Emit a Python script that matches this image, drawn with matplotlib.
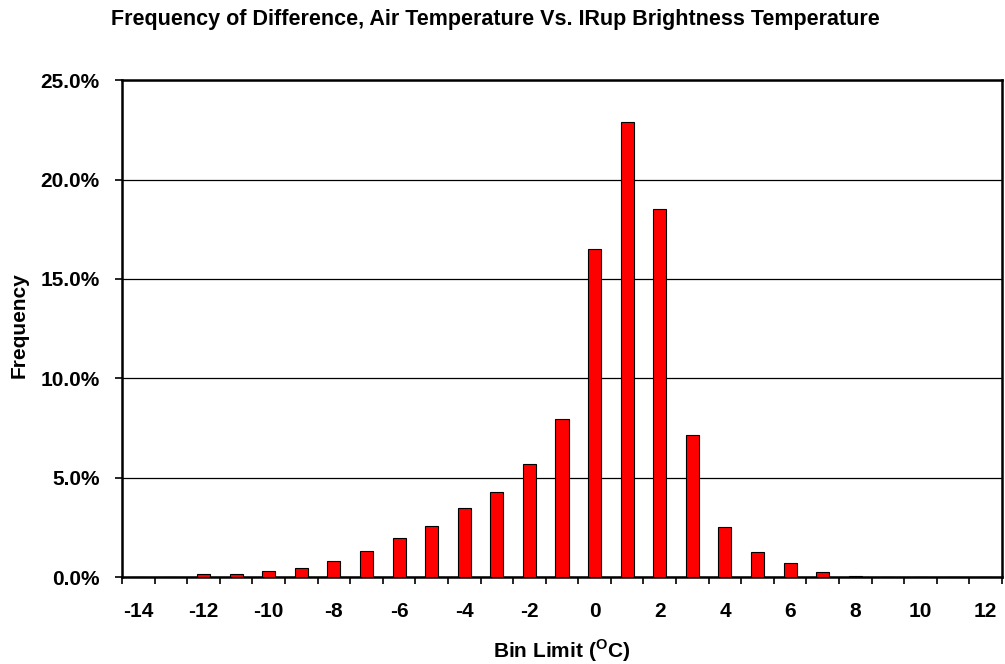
import numpy as np
import matplotlib.pyplot as plt

plt.rcParams["font.family"] = ["Liberation Sans", "DejaVu Sans"]
plt.rcParams["font.weight"] = "bold"
plt.rcParams["mathtext.fontset"] = "custom"
plt.rcParams["mathtext.rm"] = "Liberation Sans:bold"
plt.rcParams["mathtext.bf"] = "Liberation Sans:bold"

bins = list(range(-14, 13))
freq = [0.0, 0.0, 0.15, 0.2, 0.33, 0.5, 0.84, 1.35, 1.97, 2.6, 3.5, 4.3,
        5.68, 7.95, 16.5, 22.9, 18.5, 7.15, 2.55, 1.3, 0.73, 0.27, 0.09,
        0.0, 0.0, 0.0, 0.0]
tick_labels = [str(b) if b % 2 == 0 else "" for b in bins]

fig = plt.figure(figsize=(10.05, 6.64), dpi=100)
ax = fig.add_axes([0.1214, 0.1303, 0.8756, 0.7492])

x = np.arange(len(bins))
ax.bar(x, freq, width=0.4, color="#ff0000", edgecolor="black", linewidth=0.8, zorder=3)

ax.set_xlim(-0.5, len(bins) - 0.5)
ax.set_ylim(0, 25)
ax.set_yticks([0, 5, 10, 15, 20, 25])
ax.set_yticklabels([f"{v:.1f}%" for v in [0, 5, 10, 15, 20, 25]])
ax.yaxis.grid(True, color="black", linewidth=0.9, zorder=0)

ax.set_xticks(x)
ax.set_xticklabels(tick_labels)
ax.set_xticks(np.arange(-0.5, len(bins), 1), minor=True)
ax.tick_params(axis="x", which="major", length=0, pad=18, labelsize=15)
ax.tick_params(axis="x", which="minor", length=5, width=1.2, direction="out")
ax.tick_params(axis="y", length=5, width=1.2, direction="out", labelsize=15, pad=11)

for s in ax.spines.values():
    s.set_linewidth(1.8)
    s.set_color("black")

fig.text(19 / 1005, 0.511, "Frequency", rotation=90, ha="center", va="center",
         fontsize=15, fontweight="bold")
fig.text(562 / 1005, 1 - 651 / 664, r"Bin Limit ($^{\mathrm{O}}$C)", ha="center", va="center",
         fontsize=15, fontweight="bold")
fig.text(495 / 1005, 1 - 19 / 664,
         "Frequency of Difference, Air Temperature Vs. IRup Brightness Temperature",
         ha="center", va="center", fontsize=15.5, fontweight="bold")

fig.savefig("out.png", dpi=100)
